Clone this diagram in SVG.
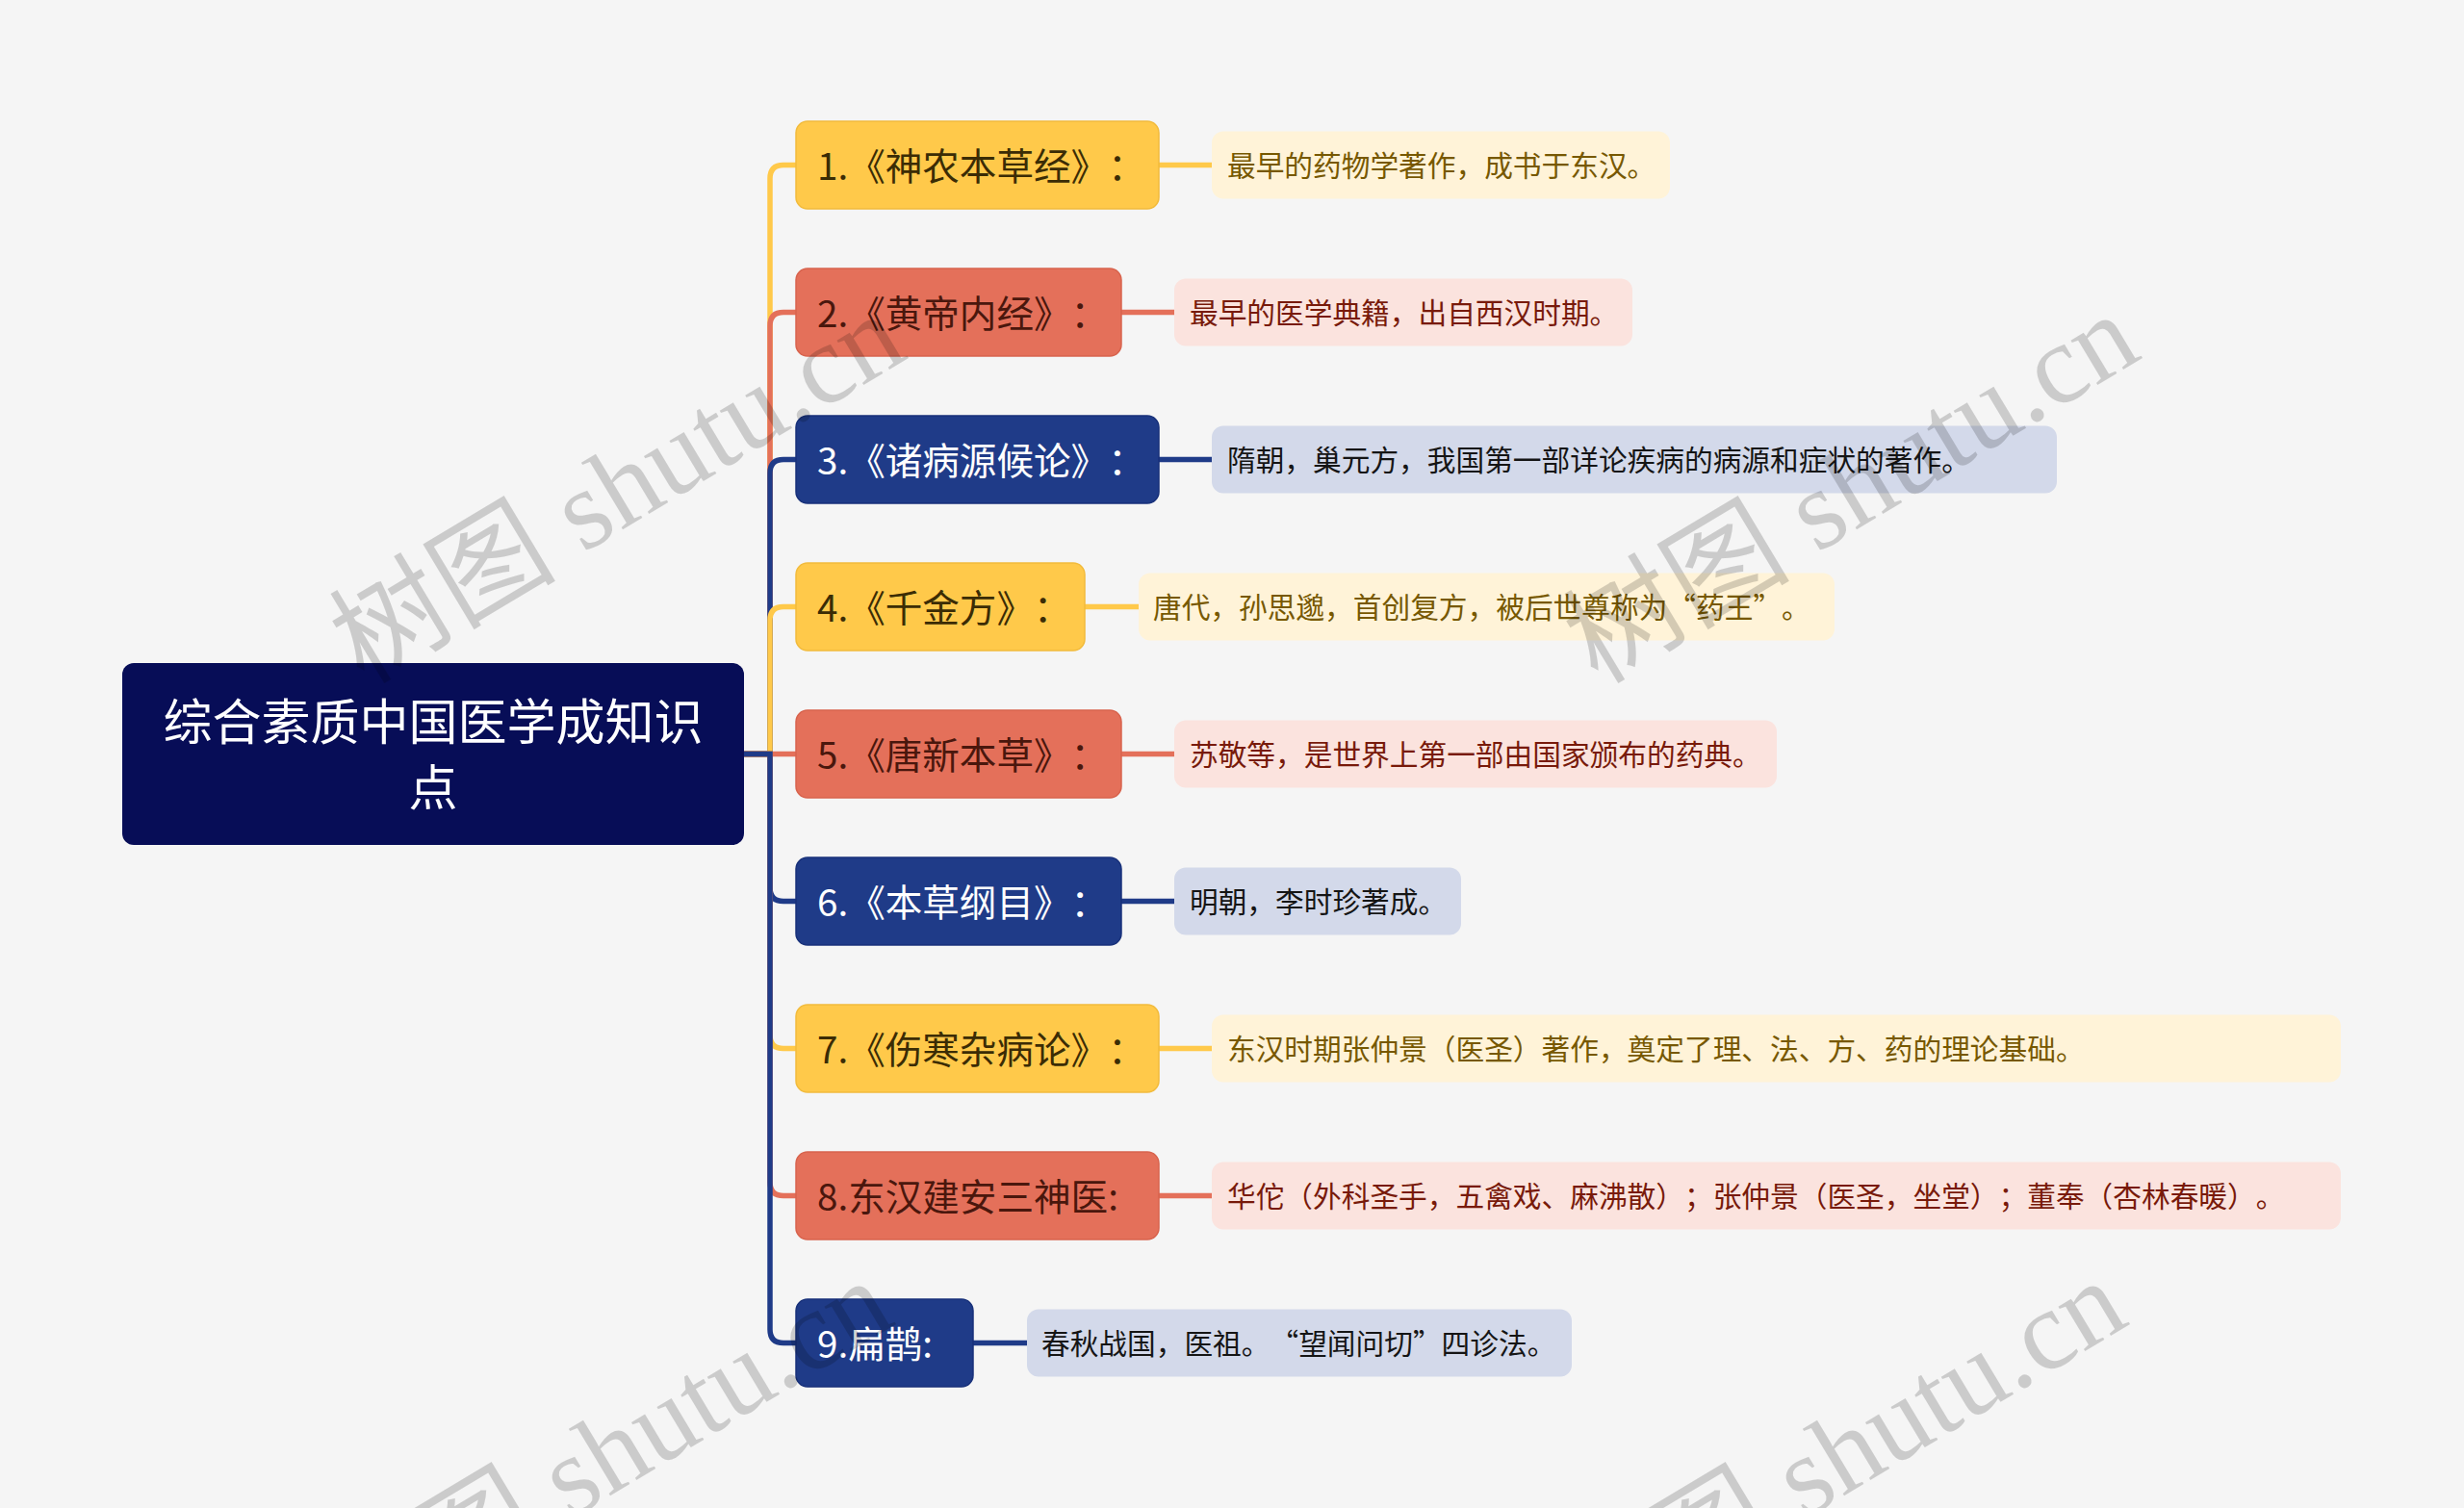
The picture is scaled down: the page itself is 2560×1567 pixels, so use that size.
<svg xmlns="http://www.w3.org/2000/svg" width="2560" height="1567" viewBox="0 0 2560 1567">
<style>
  .bg{fill:#f5f5f5}
  .root{fill:#070d57}
  .ny{fill:#ffc94a;stroke:#f2bb3c;stroke-width:1.5}
  .nr{fill:#e4705a;stroke:#d8634d;stroke-width:1.5}
  .nb{fill:#1f3b88;stroke:#18317a;stroke-width:1.5}
  .ly{fill:#fff3d8}
  .lr{fill:#fbe3de}
  .lb{fill:#d3d9ea}
  text{font-family:"Noto Sans CJK SC","Noto Sans",sans-serif;text-spacing-trim:space-all}
  .tr{font-size:51px;fill:#ffffff;text-anchor:middle}
  .tn{font-size:38.6px}
  .tny{fill:#3b2c05}
  .tnr{fill:#4a170d}
  .tnb{fill:#ffffff}
  .tl{font-size:29.7px}
  .tly{fill:#775800}
  .tlr{fill:#781a0a}
  .tlb{fill:#151515}
  .c{fill:none;stroke-width:5.5}
  .cy{stroke:#ffc94a}
  .cr{stroke:#e4705a}
  .cb{stroke:#1f3b88}
  .wm{font-family:"Liberation Serif","Noto Sans CJK SC",serif;font-size:118px;fill:#000000;fill-opacity:0.17}
</style>
<rect class="bg" x="0" y="0" width="2560" height="1567"/>

<g id="connectors">
  <path class="c cy" d="M773,783.5 H800 V185.5 Q800,171.5 814,171.5 H827"/>
  <path class="c cr" d="M773,783.5 H800 V338.5 Q800,324.5 814,324.5 H827"/>
  <path class="c cb" d="M773,783.5 H800 V491.5 Q800,477.5 814,477.5 H827"/>
  <path class="c cy" d="M773,783.5 H800 V644.5 Q800,630.5 814,630.5 H827"/>
  <path class="c cr" d="M773,783.5 H827"/>
  <path class="c cb" d="M773,783.5 H800 V922.5 Q800,936.5 814,936.5 H827"/>
  <path class="c cy" d="M773,783.5 H800 V1075.5 Q800,1089.5 814,1089.5 H827"/>
  <path class="c cr" d="M773,783.5 H800 V1228.5 Q800,1242.5 814,1242.5 H827"/>
  <path class="c cb" d="M773,783.5 H800 V1381.5 Q800,1395.5 814,1395.5 H827"/>
  <path class="c cy" d="M1204,171.5 H1259"/>
  <path class="c cr" d="M1165,324.5 H1220"/>
  <path class="c cb" d="M1204,477.5 H1259"/>
  <path class="c cy" d="M1127,630.5 H1183"/>
  <path class="c cr" d="M1165,783.5 H1220"/>
  <path class="c cb" d="M1165,936.5 H1220"/>
  <path class="c cy" d="M1204,1089.5 H1259"/>
  <path class="c cr" d="M1204,1242.5 H1259"/>
  <path class="c cb" d="M1011,1395.5 H1067"/>
</g>

<g id="root">
  <rect class="root" x="127" y="689" width="646" height="189" rx="12"/>
  <text class="tr" x="450" y="769">综合素质中国医学成知识</text>
  <text class="tr" x="450" y="837">点</text>
</g>

<g id="n1"><rect class="ny" x="827" y="126" width="377" height="91" rx="12"/><text class="tn tny" x="849" y="186.5">1.《神农本草经》：</text></g>
<g id="n2"><rect class="nr" x="827" y="279" width="338" height="91" rx="12"/><text class="tn tnr" x="849" y="339.5">2.《黄帝内经》：</text></g>
<g id="n3"><rect class="nb" x="827" y="432" width="377" height="91" rx="12"/><text class="tn tnb" x="849" y="492.5">3.《诸病源候论》：</text></g>
<g id="n4"><rect class="ny" x="827" y="585" width="300" height="91" rx="12"/><text class="tn tny" x="849" y="645.5">4.《千金方》：</text></g>
<g id="n5"><rect class="nr" x="827" y="738" width="338" height="91" rx="12"/><text class="tn tnr" x="849" y="798.5">5.《唐新本草》：</text></g>
<g id="n6"><rect class="nb" x="827" y="891" width="338" height="91" rx="12"/><text class="tn tnb" x="849" y="951.5">6.《本草纲目》：</text></g>
<g id="n7"><rect class="ny" x="827" y="1044" width="377" height="91" rx="12"/><text class="tn tny" x="849" y="1104.5">7.《伤寒杂病论》：</text></g>
<g id="n8"><rect class="nr" x="827" y="1197" width="377" height="91" rx="12"/><text class="tn tnr" x="849" y="1257.5">8.东汉建安三神医:</text></g>
<g id="n9"><rect class="nb" x="827" y="1350" width="184" height="91" rx="12"/><text class="tn tnb" x="849" y="1410.5">9.扁鹊:</text></g>

<g id="l1"><rect class="ly" x="1259" y="136.5" width="476" height="70" rx="12"/><text class="tl tly" x="1275" y="183">最早的药物学著作，成书于东汉。</text></g>
<g id="l2"><rect class="lr" x="1220" y="289.5" width="476" height="70" rx="12"/><text class="tl tlr" x="1236" y="336">最早的医学典籍，出自西汉时期。</text></g>
<g id="l3"><rect class="lb" x="1259" y="442.5" width="878" height="70" rx="12"/><text class="tl tlb" x="1275" y="489">隋朝，巢元方，我国第一部详论疾病的病源和症状的著作。</text></g>
<g id="l4"><rect class="ly" x="1183" y="595.5" width="723" height="70" rx="12"/><text class="tl tly" x="1198" y="642">唐代，孙思邈，首创复方，被后世尊称为“药王”。</text></g>
<g id="l5"><rect class="lr" x="1220" y="748.5" width="626" height="70" rx="12"/><text class="tl tlr" x="1236" y="795">苏敬等，是世界上第一部由国家颁布的药典。</text></g>
<g id="l6"><rect class="lb" x="1220" y="901.5" width="298" height="70" rx="12"/><text class="tl tlb" x="1236" y="948">明朝，李时珍著成。</text></g>
<g id="l7"><rect class="ly" x="1259" y="1054.5" width="1173" height="70" rx="12"/><text class="tl tly" x="1275" y="1101">东汉时期张仲景（医圣）著作，奠定了理、法、方、药的理论基础。</text></g>
<g id="l8"><rect class="lr" x="1259" y="1207.5" width="1173" height="70" rx="12"/><text class="tl tlr" x="1275" y="1254">华佗（外科圣手，五禽戏、麻沸散）；张仲景（医圣，坐堂）；董奉（杏林春暖）。</text></g>
<g id="l9"><rect class="lb" x="1067" y="1360.5" width="566" height="70" rx="12"/><text class="tl tlb" x="1082" y="1407">春秋战国，医祖。“望闻问切”四诊法。</text></g>

<g id="watermarks">
  <text class="wm" transform="translate(378,712) rotate(-31)">树图 shutu.cn</text>
  <text class="wm" transform="translate(1660,712) rotate(-31)">树图 shutu.cn</text>
  <text class="wm" transform="translate(365,1716) rotate(-31)">树图 shutu.cn</text>
  <text class="wm" transform="translate(1647,1716) rotate(-31)">树图 shutu.cn</text>
</g>
</svg>
